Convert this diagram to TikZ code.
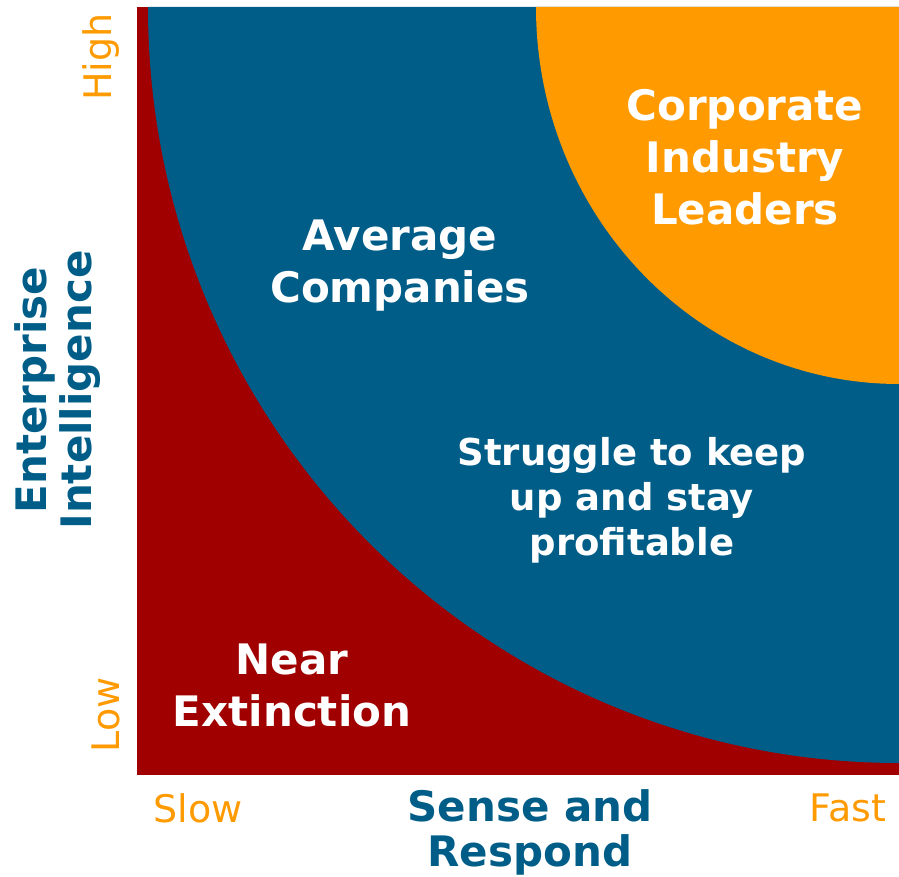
\documentclass[tikz,border=0pt]{standalone}
\usepackage{fontspec}
\setmainfont{DejaVu Sans}
\definecolor{cred}{HTML}{A00000}
\definecolor{cblue}{HTML}{005D88}
\definecolor{corange}{HTML}{FF9A00}
\begin{document}
\begin{tikzpicture}[x=1pt,y=1pt,
  big/.style={align=center,font=\fontsize{42}{52}\selectfont\bfseries,text=white,inner sep=0pt},
  mid/.style={align=center,font=\fontsize{37}{45}\selectfont\bfseries,text=white,inner sep=0pt},
  axis/.style={align=center,font=\fontsize{42}{45}\selectfont\bfseries,text=cblue,inner sep=0pt},
  tick/.style={font=\fontsize{38}{40}\selectfont,text=corange,inner sep=0pt}]
\useasboundingbox (0,0) rectangle (899,877);
\fill[cred] (137,102) rectangle (899,870);
\fill[cblue] (899,870) -- (148,870) arc[start angle=180,end angle=270,x radius=751,y radius=756] -- cycle;
\fill[corange] (899,870) -- (536,870) arc[start angle=180,end angle=270,x radius=363,y radius=377] -- cycle;
\node[big] (leaders) at (745,720) {Corporate\\Industry\\Leaders};
\node[big] (average) at (400,611) {Average\\Companies};
\node[mid] (struggle) at (632,377) {Struggle to keep\\up and stay\\profitable};
\node[big] (near) at (292,192) {Near\\Extinction};
\node[axis] (xaxis) at (530,45) {Sense and\\Respond};
\node[axis,rotate=90] (yaxis) at (58,487) {Enterprise\\Intelligence};
\node[tick,rotate=90] (high) at (101,820) {High};
\node[tick,rotate=90] (low) at (106,162) {Low};
\node[tick] (slow) at (198,69) {Slow};
\node[tick] (fast) at (848,69) {Fast};
\end{tikzpicture}
\end{document}
